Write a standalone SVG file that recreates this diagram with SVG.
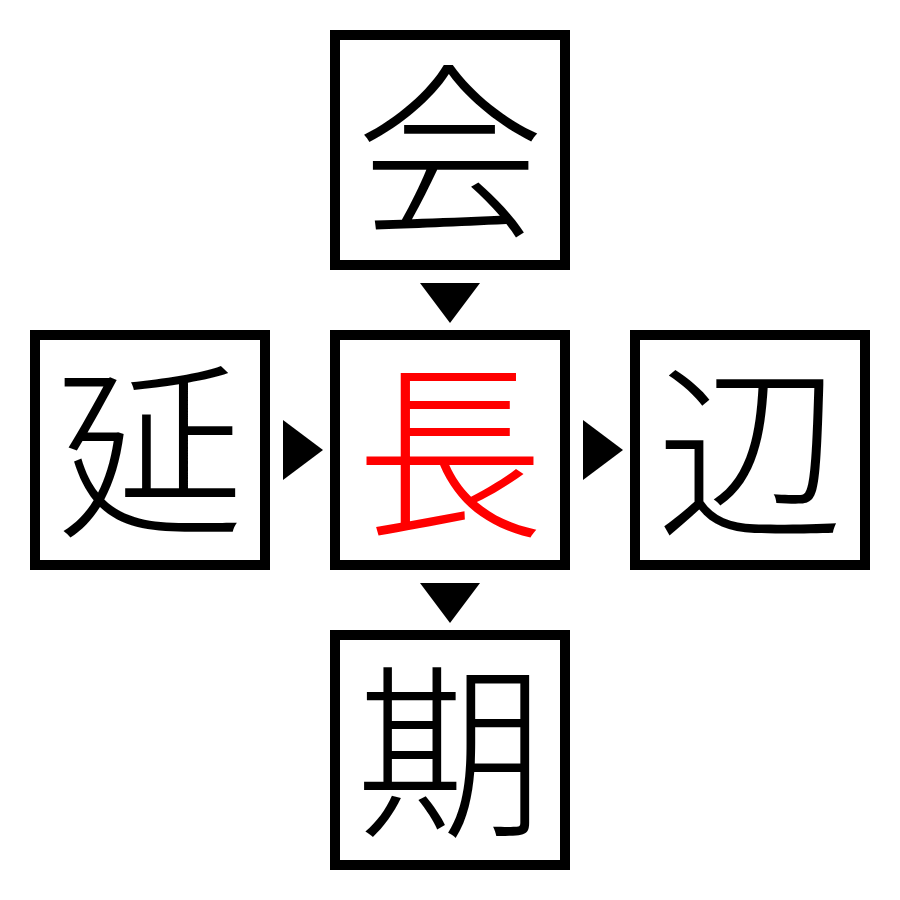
<svg xmlns="http://www.w3.org/2000/svg" width="900" height="900" viewBox="0 0 900 900">
<style>
.box{fill:#fff;stroke:#000;stroke-width:10}
.ch{font-family:"Noto Sans CJK JP","Noto Sans CJK SC",sans-serif;font-size:188px;font-weight:300;text-anchor:middle;fill:#000}
.red{fill:#ff0000}
.arr{fill:#000}
</style>
<rect width="900" height="900" fill="#fff"/>
<g id="node-top"><rect class="box" x="335" y="35" width="230" height="230"/><text class="ch" x="450" y="222">会</text></g>
<g id="node-left"><rect class="box" x="35" y="335" width="230" height="230"/><text class="ch" x="150" y="522">延</text></g>
<g id="node-center"><rect class="box" x="335" y="335" width="230" height="230"/><text class="ch red" x="450" y="522">長</text></g>
<g id="node-right"><rect class="box" x="635" y="335" width="230" height="230"/><text class="ch" x="750" y="522">辺</text></g>
<g id="node-bottom"><rect class="box" x="335" y="635" width="230" height="230"/><text class="ch" x="450" y="822">期</text></g>
<g id="connectors">
<polygon class="arr" points="420,283 480,283 450,323"/>
<polygon class="arr" points="283,420 283,480 323,450"/>
<polygon class="arr" points="583,420 583,480 623,450"/>
<polygon class="arr" points="420,583 480,583 450,623"/>
</g>
</svg>
